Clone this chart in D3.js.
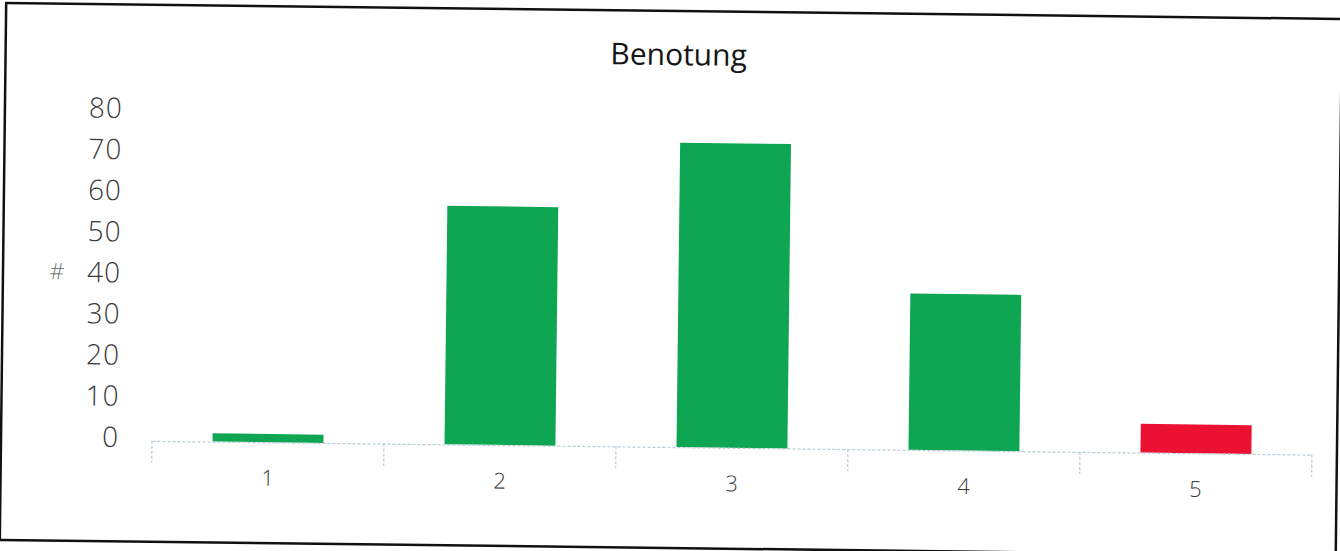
<!DOCTYPE html>
<html>
<head>
<meta charset="utf-8">
<script src="https://cdn.jsdelivr.net/npm/d3@7"></script>
<style>
  body { margin: 0; background: #fff; }
  text { font-family: "Open Sans", "DejaVu Sans", sans-serif; }
</style>
</head>
<body>
<div id="chart"></div>
<script>
var width = 1340;
var height = 551;

// data
var categories = ["1", "2", "3", "4", "5"];
var counts = [2, 58, 74, 38, 7];
var barColors = ["#0fa653", "#0fa653", "#0fa653", "#0fa653", "#ea1133"];
var yTicks = [0, 10, 20, 30, 40, 50, 60, 70, 80];
var title = "Benotung";
var yLabel = "#";

var svg = d3.select("#chart")
            .append("svg")
            .attr("width", width)
            .attr("height", height);

// the scanned page is slightly tilted
var page = svg.append("g")
              .attr("transform", "rotate(0.68," + (width / 2) + ",275)");

page.append("rect")
    .attr("x", 3).attr("y", 11)
    .attr("width", 1336).attr("height", 537)
    .attr("fill", "none")
    .attr("stroke", "#111")
    .attr("stroke-width", 2.5);

var xScale = d3.scaleBand()
               .domain(categories)
               .range([154, 1314])
               .paddingInner(0.522)
               .paddingOuter(0.261);

var yScale = d3.scaleLinear()
               .domain([0, 80])
               .range([447, 118]);

var step = xScale.step();

// title
page.append("text")
    .attr("x", 676).attr("y", 65)
    .attr("text-anchor", "middle")
    .style("font-size", "30px")
    .style("fill", "#151515")
    .text(title);

// y axis labels only, no line
var yAxis = d3.axisLeft(yScale)
              .tickValues(yTicks)
              .tickSize(0)
              .tickPadding(0);

var yg = page.append("g")
             .attr("transform", "translate(121,-3)")
             .call(yAxis);
yg.select(".domain").remove();
yg.selectAll("text")
  .style("font-family", "'Open Sans', sans-serif")
  .style("font-size", "28px")
  .style("font-weight", 300)
  .style("letter-spacing", "1px")
  .style("fill", "#3a3a3a");

page.append("text")
    .attr("x", 57)
    .attr("y", yScale(40) - 2)
    .attr("text-anchor", "middle")
    .attr("dominant-baseline", "middle")
    .style("font-size", "23px")
    .style("font-weight", 300)
    .style("fill", "#777")
    .text(yLabel);

// bars
page.selectAll("rect.bar")
    .data(counts)
    .enter()
    .append("rect")
    .attr("class", "bar")
    .attr("x", function(d, i) { return xScale(categories[i]); })
    .attr("y", function(d) { return yScale(d); })
    .attr("width", xScale.bandwidth())
    .attr("height", function(d) { return yScale(0) - yScale(d); })
    .style("fill", function(d, i) { return barColors[i]; });

// x axis: faint dotted line with ticks between the categories
var xAxis = d3.axisBottom(xScale)
              .tickSize(0)
              .tickPadding(28);

var xg = page.append("g")
             .attr("transform", "translate(0," + yScale(0) + ")")
             .call(xAxis);
xg.select(".domain")
  .attr("stroke", "#b9cad4")
  .attr("stroke-width", 1.2)
  .attr("stroke-dasharray", "3,2");
xg.selectAll("text")
  .style("font-family", "'Open Sans', sans-serif")
  .style("font-size", "22px")
  .style("font-weight", 300)
  .style("fill", "#3a3a3a");

var bounds = categories.map(function(c) {
  return xScale(c) + xScale.bandwidth() / 2 - step / 2;
});
bounds.push(xScale(categories[categories.length - 1]) + xScale.bandwidth() / 2 + step / 2);

xg.selectAll("line.sep")
  .data(bounds)
  .enter()
  .append("line")
  .attr("class", "sep")
  .attr("x1", function(d) { return d; })
  .attr("x2", function(d) { return d; })
  .attr("y1", 0)
  .attr("y2", 22)
  .attr("stroke", "#b9cad4")
  .attr("stroke-width", 1.2)
  .attr("stroke-dasharray", "3,2");
</script>
</body>
</html>
